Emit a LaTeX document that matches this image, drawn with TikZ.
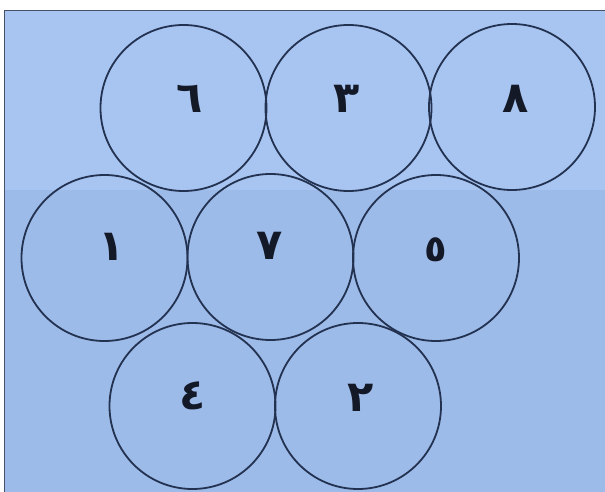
\documentclass[tikz,border=0pt]{standalone}
\usepackage{fontspec}
\newfontfamily\arabicfont[Script=Arabic]{DejaVu Sans}
\TeXXeTstate=1
\definecolor{bgtop}{RGB}{168,197,241}
\definecolor{bgbot}{RGB}{157,187,233}
\definecolor{ink}{RGB}{35,50,80}
\definecolor{framec}{RGB}{70,80,105}
\definecolor{digitc}{RGB}{20,25,40}
\begin{document}
\begin{tikzpicture}[x=1pt,y=-1pt,
  ring/.style={circle,draw=ink,line width=1.8pt,minimum size=166pt,inner sep=0pt},
  digit/.style={font=\arabicfont\bfseries\fontsize{43}{43}\selectfont,text=digitc,inner sep=0pt},
  smalldigit/.style={digit,font=\arabicfont\bfseries\fontsize{37}{37}\selectfont}]
\useasboundingbox (0,0) rectangle (605,492);
\fill[white] (0,0) rectangle (605,492);
\fill[bgtop] (4,11) rectangle (605,190);
\fill[bgbot] (4,190) rectangle (605,492);
\draw[framec,line width=1pt] (4,492) -- (4,11) -- (605,11);
% circles
\node[ring] (c6) at (183.5,108) {};
\node[ring] (c3) at (348.5,108) {};
\node[ring] (c8) at (512,107) {};
\node[ring] (c1) at (104.5,258) {};
\node[ring] (c7) at (270.5,257) {};
\node[ring] (c5) at (436,258) {};
\node[ring] (c4) at (192.5,406) {};
\node[ring] (c2) at (358,406) {};
% digits
\node[digit] (d6) at (190,99) {\beginR ٦\endR};
\node[digit] (d3) at (347,99) {\beginR ٣\endR};
\node[digit] (d8) at (516,99) {\beginR ٨\endR};
\node[digit] (d1) at (112,247) {\beginR ١\endR};
\node[digit] (d7) at (270,246) {\beginR ٧\endR};
\node[smalldigit] (d5) at (436,250) {\beginR ٥\endR};
\node[digit] (d4) at (193,396) {\beginR ٤\endR};
\node[digit] (d2) at (361,398) {\beginR ٢\endR};
\end{tikzpicture}
\end{document}
